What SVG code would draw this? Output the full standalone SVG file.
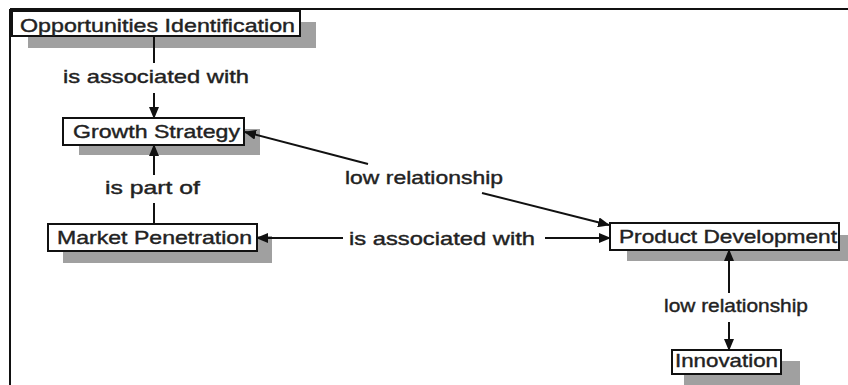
<svg xmlns="http://www.w3.org/2000/svg" width="848" height="385" viewBox="0 0 848 385">
<defs>
<marker id="arr" markerUnits="userSpaceOnUse" markerWidth="12" markerHeight="10" refX="11" refY="5" orient="auto">
<path d="M0,0 L12,5 L0,10 z" fill="#111"/>
</marker>
<style>
.box{fill:#fff;stroke:#111;stroke-width:2}
.sh{fill:#a0a0a0}
.t{font-family:"Liberation Sans",Arial,sans-serif;font-size:19px;fill:#222;stroke:#222;stroke-width:0.4}
.c line{stroke:#111;stroke-width:2;fill:none}
</style>
</defs>
<rect width="848" height="385" fill="#fff"/>
<g id="frame">
<line x1="10" y1="9" x2="848" y2="9" stroke="#111" stroke-width="2"/>
<line x1="10" y1="9" x2="10" y2="385" stroke="#111" stroke-width="2"/>
</g>
<g id="n-opportunities">
<rect class="sh" x="28" y="22" width="288" height="26"/>
<rect class="box" x="12" y="11" width="288" height="25"/>
<text class="t" x="20" y="32" textLength="275" lengthAdjust="spacingAndGlyphs">Opportunities Identification</text>
</g>
<g id="n-growth">
<rect class="sh" x="79" y="129" width="181" height="26"/>
<rect class="box" x="63" y="118" width="181" height="27"/>
<text class="t" x="73" y="138" textLength="167" lengthAdjust="spacingAndGlyphs">Growth Strategy</text>
</g>
<g id="n-market">
<rect class="sh" x="63" y="236" width="209" height="27"/>
<rect class="box" x="48" y="224" width="209" height="27"/>
<text class="t" x="57" y="244" textLength="195" lengthAdjust="spacingAndGlyphs">Market Penetration</text>
</g>
<g id="n-product">
<rect class="sh" x="627" y="235" width="221" height="26"/>
<rect class="box" x="610" y="223" width="229" height="27"/>
<text class="t" x="619" y="243" textLength="218" lengthAdjust="spacingAndGlyphs">Product Development</text>
</g>
<g id="n-innovation">
<rect class="sh" x="684" y="361" width="116" height="24"/>
<rect class="box" x="672" y="350" width="109" height="24"/>
<text class="t" x="675" y="367" textLength="103" lengthAdjust="spacingAndGlyphs">Innovation</text>
</g>
<g id="connectors" class="c">
<line x1="154" y1="36" x2="154" y2="63"/>
<line x1="154" y1="93" x2="154" y2="118" marker-end="url(#arr)"/>
<line x1="154" y1="224" x2="154" y2="203"/>
<line x1="154" y1="175" x2="154" y2="145" marker-end="url(#arr)"/>
<line x1="368" y1="164" x2="245" y2="132" marker-end="url(#arr)"/>
<line x1="482" y1="193" x2="609" y2="225" marker-end="url(#arr)"/>
<line x1="343" y1="238" x2="257" y2="238" marker-end="url(#arr)"/>
<line x1="545" y1="238" x2="610" y2="238" marker-end="url(#arr)"/>
<line x1="729" y1="293" x2="729" y2="250" marker-end="url(#arr)"/>
<line x1="729" y1="322" x2="729" y2="350" marker-end="url(#arr)"/>
</g>
<g id="labels">
<text class="t" x="63" y="83" textLength="186" lengthAdjust="spacingAndGlyphs">is associated with</text>
<text class="t" x="105" y="194" textLength="95" lengthAdjust="spacingAndGlyphs">is part of</text>
<text class="t" x="345" y="184" textLength="158" lengthAdjust="spacingAndGlyphs">low relationship</text>
<text class="t" x="349" y="245" textLength="186" lengthAdjust="spacingAndGlyphs">is associated with</text>
<text class="t" x="664" y="312" textLength="144" lengthAdjust="spacingAndGlyphs">low relationship</text>
</g>
</svg>
